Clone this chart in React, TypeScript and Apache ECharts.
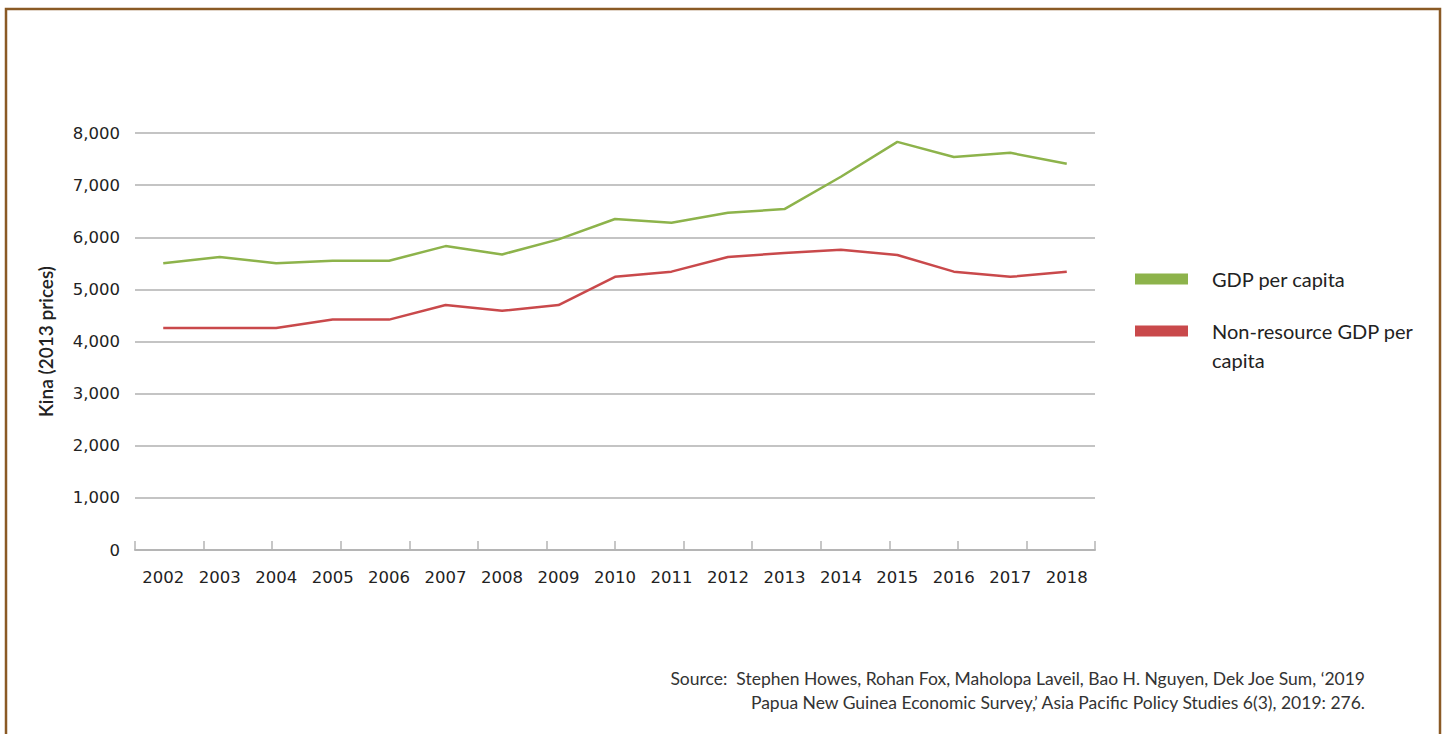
import React, { useEffect, useRef } from "react";
import * as echarts from "echarts";

const years = ["2002","2003","2004","2005","2006","2007","2008","2009","2010","2011","2012","2013","2014","2015","2016","2017","2018"];
const gdpPerCapita = [5500,5620,5500,5550,5550,5830,5670,5960,6350,6280,6470,6540,7160,7830,7540,7620,7410];
const nonResourceGdp = [4260,4260,4260,4420,4420,4700,4590,4700,5240,5340,5620,5700,5760,5660,5340,5240,5340];
const seriesNames = ["GDP per capita", "Non-resource GDP per capita"];
const legendLabels = [["GDP per capita"], ["Non-resource GDP per", "capita"]];
const colors = ["#8db34b", "#c9494b"];
const yTicks = [0, 1000, 2000, 3000, 4000, 5000, 6000, 7000, 8000];
const sourceLines = [
  "Source:  Stephen Howes, Rohan Fox, Maholopa Laveil, Bao H. Nguyen, Dek Joe Sum, \u20182019",
  "Papua New Guinea Economic Survey,\u2019 Asia Pacific Policy Studies 6(3), 2019: 276.",
];

const FONT = "Lato, 'Open Sans', sans-serif";
const NUMFONT = "'DejaVu Sans', sans-serif";

export default function App() {
  const ref = useRef<HTMLDivElement>(null);
  useEffect(() => {
    if (!ref.current) return;
    const chart = echarts.init(ref.current, null, { renderer: "svg" });
    const legendGraphics: any[] = [];
    const legendTops = [279, 331];
    legendLabels.forEach((lines, i) => {
      legendGraphics.push({
        type: "rect",
        shape: { x: 1135, y: legendTops[i] - 5.5, width: 53, height: 11 },
        style: { fill: colors[i] },
      });
      lines.forEach((ln, j) => {
        legendGraphics.push({
          type: "text",
          x: 1212,
          y: legendTops[i] + j * 29,
          style: { text: ln, fill: "#222", font: `20px ${FONT}`, textVerticalAlign: "middle" },
        });
      });
    });
    const sourceGraphics = sourceLines.map((t, i) => ({
      type: "text",
      x: 1365,
      y: 678 + i * 24,
      style: { text: t, fill: "#333", font: `17.5px ${FONT}`, textAlign: "right", textVerticalAlign: "middle" },
    }));
    chart.setOption({
      animation: false,
      backgroundColor: "#ffffff",
      grid: { left: 135, right: 1447 - 1095, top: 133, bottom: 734 - 550, containLabel: false },
      xAxis: [
        {
          type: "category",
          data: years,
          position: "bottom",
          boundaryGap: true,
          axisLine: { show: false },
          axisTick: { show: false },
          axisLabel: { color: "#222", fontSize: 16.5, fontFamily: NUMFONT, margin: 19, interval: 0 },
          splitLine: { show: false },
        },
        {
          type: "value",
          position: "bottom",
          min: 0,
          max: 14,
          interval: 1,
          axisLine: { show: true, lineStyle: { color: "#b5b5b5", width: 2 } },
          axisTick: { show: true, inside: true, length: 9, lineStyle: { color: "#b5b5b5", width: 1.5 } },
          axisLabel: { show: false },
          splitLine: { show: false },
        },
      ],
      yAxis: {
        type: "value",
        min: yTicks[0],
        max: yTicks[yTicks.length - 1],
        interval: 1000,
        name: "Kina (2013 prices)",
        nameLocation: "middle",
        nameGap: 80,
        nameRotate: 90,
        nameTextStyle: { color: "#222", fontSize: 19, fontWeight: 600, fontFamily: FONT },
        axisLine: { show: false },
        axisTick: { show: false },
        axisLabel: {
          color: "#222",
          fontSize: 16.5,
          fontFamily: NUMFONT,
          margin: 15,
          formatter: (v: number) => v.toLocaleString("en-US"),
        },
        splitLine: { lineStyle: { color: "#c4c4c4", width: 2 } },
      },
      series: [
        {
          name: seriesNames[0],
          type: "line",
          data: gdpPerCapita,
          xAxisIndex: 0,
          symbol: "none",
          lineStyle: { color: colors[0], width: 2.5 },
          itemStyle: { color: colors[0] },
        },
        {
          name: seriesNames[1],
          type: "line",
          data: nonResourceGdp,
          xAxisIndex: 0,
          symbol: "none",
          lineStyle: { color: colors[1], width: 2.5 },
          itemStyle: { color: colors[1] },
        },
      ],
      graphic: [
        {
          type: "rect",
          shape: { x: 6, y: 9, width: 1434, height: 740 },
          style: { fill: "none", stroke: "#8a5a25", lineWidth: 2.5 },
          silent: true,
        },
        ...legendGraphics,
        ...sourceGraphics,
      ],
    });
    return () => chart.dispose();
  }, []);
  return <div ref={ref} style={{ position: "absolute", left: 0, top: 0, width: 1447, height: 734 }} />;
}
